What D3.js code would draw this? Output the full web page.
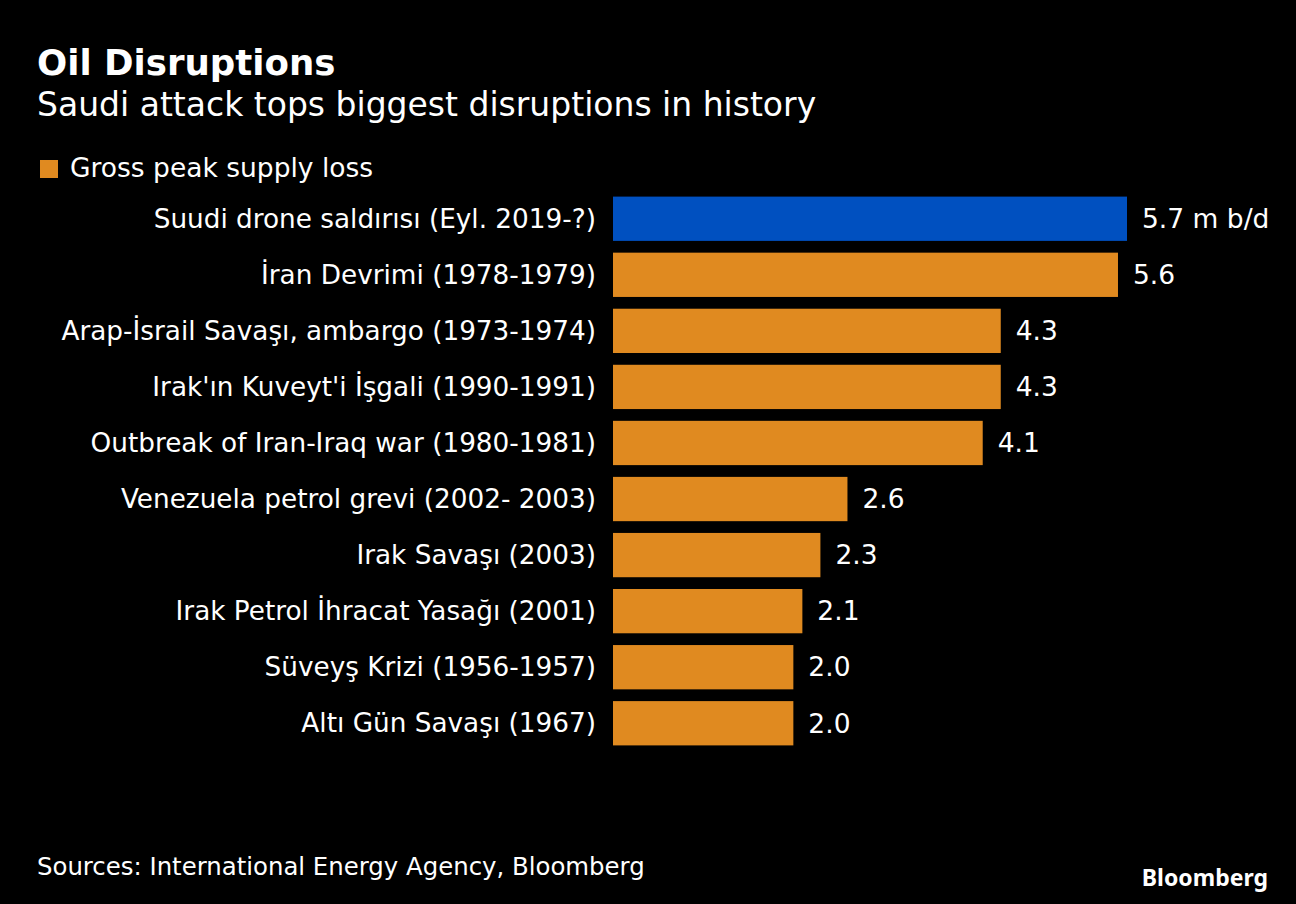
<!DOCTYPE html>
<html><head><meta charset="utf-8">
<script src="https://cdn.jsdelivr.net/npm/d3@7"></script>
<style>body{margin:0;background:#000}text{font-family:"DejaVu Sans",sans-serif;fill:#fff}</style>
</head><body><div id="chart"></div>
<script>
var labels = ["Suudi drone saldırısı (Eyl. 2019-?)","İran Devrimi (1978-1979)","Arap-İsrail Savaşı, ambargo (1973-1974)","Irak'ın Kuveyt'i İşgali (1990-1991)","Outbreak of Iran-Iraq war (1980-1981)","Venezuela petrol grevi (2002- 2003)","Irak Savaşı (2003)","Irak Petrol İhracat Yasağı (2001)","Süveyş Krizi (1956-1957)","Altı Gün Savaşı (1967)"];
var values = [5.7,5.6,4.3,4.3,4.1,2.6,2.3,2.1,2.0,2.0];
var valueLabels = ["5.7 m b/d","5.6","4.3","4.3","4.1","2.6","2.3","2.1","2.0","2.0"];

var W = 1296, H = 904;
var svg = d3.select("#chart").append("svg").attr("width", W).attr("height", H)
  .style("background", "#000");

var x = d3.scaleLinear().domain([0, 5.7]).range([613, 1127]);
var y = d3.scaleBand().domain(d3.range(labels.length)).range([191, 751]).paddingInner(0.21).paddingOuter(0.1);

svg.append("text").attr("x", 37).attr("y", 75).style("font-size", "35.6px").style("font-weight", "bold").text("Oil Disruptions");
svg.append("text").attr("x", 37).attr("y", 116).style("font-size", "33px").text("Saudi attack tops biggest disruptions in history");
svg.append("rect").attr("x", 40).attr("y", 160).attr("width", 18).attr("height", 18).attr("fill", "#E08A20");
svg.append("text").attr("x", 70).attr("y", 177).style("font-size", "26.5px").text("Gross peak supply loss");

var rows = svg.selectAll("g.row").data(values).enter().append("g").attr("class", "row");
rows.append("rect")
  .attr("x", x(0)).attr("y", function(d, i) { return y(i); })
  .attr("width", function(d) { return x(d) - x(0); })
  .attr("height", y.bandwidth())
  .attr("fill", function(d, i) { return i == 0 ? "#0050C0" : "#E08A20"; });
rows.append("text")
  .attr("x", 596).attr("y", function(d, i) { return y(i) + y.bandwidth() / 2; })
  .attr("dy", "0.35em").attr("text-anchor", "end").style("font-size", "26.3px")
  .text(function(d, i) { return labels[i]; });
rows.append("text")
  .attr("x", function(d) { return x(d) + 15; }).attr("y", function(d, i) { return y(i) + y.bandwidth() / 2; })
  .attr("dy", "0.35em").style("font-size", "26.5px")
  .text(function(d, i) { return valueLabels[i]; });

svg.append("text").attr("x", 37).attr("y", 875).style("font-size", "24.4px").text("Sources: International Energy Agency, Bloomberg");
svg.append("text").attr("x", 1268).attr("y", 886).attr("text-anchor", "end").style("font-family", "'Noto Sans', sans-serif").style("font-size", "23px").style("font-weight", "bold").text("Bloomberg");
</script></body></html>
